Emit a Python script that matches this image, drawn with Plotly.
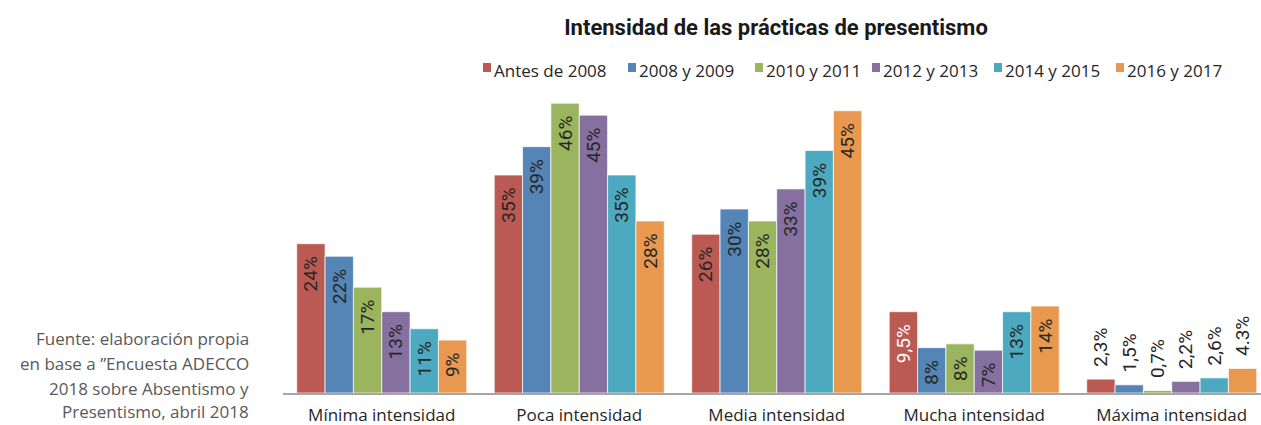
import plotly.graph_objects as go

categories = ["Mínima intensidad", "Poca intensidad", "Media intensidad",
              "Mucha intensidad", "Máxima intensidad"]
series_names = ["Antes de 2008", "2008 y 2009", "2010 y 2011",
                "2012 y 2013", "2014 y 2015", "2016 y 2017"]
colors = ["#BA5A52", "#5584B7", "#9BB45E", "#8570A0", "#4DA9BF", "#E8994F"]

# bar heights as drawn (per category, one per series)
antes_2008 = [23.7, 34.6, 25.2, 12.9, 2.2]
y2008_2009 = [21.7, 39.1, 29.2, 7.2, 1.3]
y2010_2011 = [16.8, 46.0, 27.3, 7.8, 0.4]
y2012_2013 = [12.9, 44.1, 32.4, 6.8, 1.85]
y2014_2015 = [10.2, 34.6, 38.5, 12.9, 2.4]
y2016_2017 = [8.4, 27.3, 44.8, 13.8, 3.9]

# printed labels
lbl_antes_2008 = ["24%", "35%", "26%", "9,5%", "2,3%"]
lbl_2008_2009 = ["22%", "39%", "30%", "8%", "1,5%"]
lbl_2010_2011 = ["17%", "46%", "28%", "8%", "0,7%"]
lbl_2012_2013 = ["13%", "45%", "33%", "7%", "2,2%"]
lbl_2014_2015 = ["11%", "35%", "39%", "13%", "2,6%"]
lbl_2016_2017 = ["9%", "28%", "45%", "14%", "4.3%"]

values = [antes_2008, y2008_2009, y2010_2011, y2012_2013, y2014_2015, y2016_2017]
labels = [lbl_antes_2008, lbl_2008_2009, lbl_2010_2011, lbl_2012_2013,
          lbl_2014_2015, lbl_2016_2017]

footnote = ["Fuente: elaboración propia", "en base a \u201dEncuesta ADECCO",
            "2018 sobre Absentismo y", "Presentismo, abril 2018"]

LBL_FONT = "Roboto"
TXT_FONT = "Open Sans"
PAD = "\u00a0\u00a0"

# plot area geometry (px)
L, R, T, B = 283, 1261, 95, 393
PW, PH = R - L, B - T


def px_x(px):
    return (px - L) / PW


def px_y(py):
    return (B - py) / PH


fig = go.Figure()
for si, name in enumerate(series_names):
    texts, positions, tcolors = [], [], []
    for ci, lab in enumerate(labels[si]):
        if ci == len(categories) - 1:
            texts.append(PAD + lab)
            positions.append("outside")
        else:
            texts.append(lab + PAD)
            positions.append("inside")
        tcolors.append("white" if (si == 0 and ci == 3) else "#262626")
    fig.add_trace(go.Bar(
        name=name, x=categories, y=values[si],
        marker=dict(color=colors[si], line=dict(color="rgba(255,255,255,0.7)", width=1)),
        text=texts, textposition=positions, textangle=-90,
        insidetextanchor="end", constraintext="none",
        textfont=dict(family=LBL_FONT, size=19, color=tcolors),
        outsidetextfont=dict(family=LBL_FONT, size=19, color="#262626"),
        insidetextfont=dict(family=LBL_FONT, size=19, color=tcolors),
        cliponaxis=False,
        hoverinfo="skip",
    ))

# legend (drawn manually to match the compact key layout)
legend_px = [483, 628, 755, 872, 994, 1116]
for name, col, lx in zip(series_names, colors, legend_px):
    fig.add_shape(type="rect", xref="paper", yref="paper",
                  x0=px_x(lx), x1=px_x(lx + 8), y0=px_y(72), y1=px_y(63),
                  fillcolor=col, line=dict(width=0))
    fig.add_annotation(text=name, xref="paper", yref="paper",
                       x=px_x(lx + 9), y=px_y(71), xanchor="left", yanchor="middle",
                       showarrow=False,
                       font=dict(family=TXT_FONT, size=17, color="#262626"))

for i, line in enumerate(footnote):
    ypx = [338, 363, 388, 411][i]
    fig.add_annotation(text=line, xref="paper", yref="paper",
                       x=px_x(251), y=px_y(ypx),
                       xanchor="right", yanchor="middle", showarrow=False,
                       font=dict(family=TXT_FONT, size=17, color="#595959"))

fig.update_layout(
    width=1261, height=425,
    margin=dict(l=L, r=1261 - R, t=T, b=425 - B, autoexpand=False),
    paper_bgcolor="white", plot_bgcolor="white",
    barmode="group", bargap=0.139, bargroupgap=0,
    title=dict(text="<b>Intensidad de las prácticas de presentismo</b>",
               x=776 / 1261, xanchor="center", xref="container",
               y=1 - 27 / 425, yanchor="middle", yref="container",
               font=dict(family="Roboto", size=22, color="#1a1a1a")),
    showlegend=False,
    xaxis=dict(range=[-0.5, 4.452], showline=True, linecolor="#A6A6A6", linewidth=2,
               ticks="", ticklabelstandoff=6,
               tickfont=dict(family=TXT_FONT, size=17, color="#262626"),
               showgrid=False, zeroline=False, fixedrange=True),
    yaxis=dict(range=[0, PH / 6.3], visible=False, showgrid=False, zeroline=False,
               fixedrange=True),
)

fig.write_html("out.html", config={"displayModeBar": False})
